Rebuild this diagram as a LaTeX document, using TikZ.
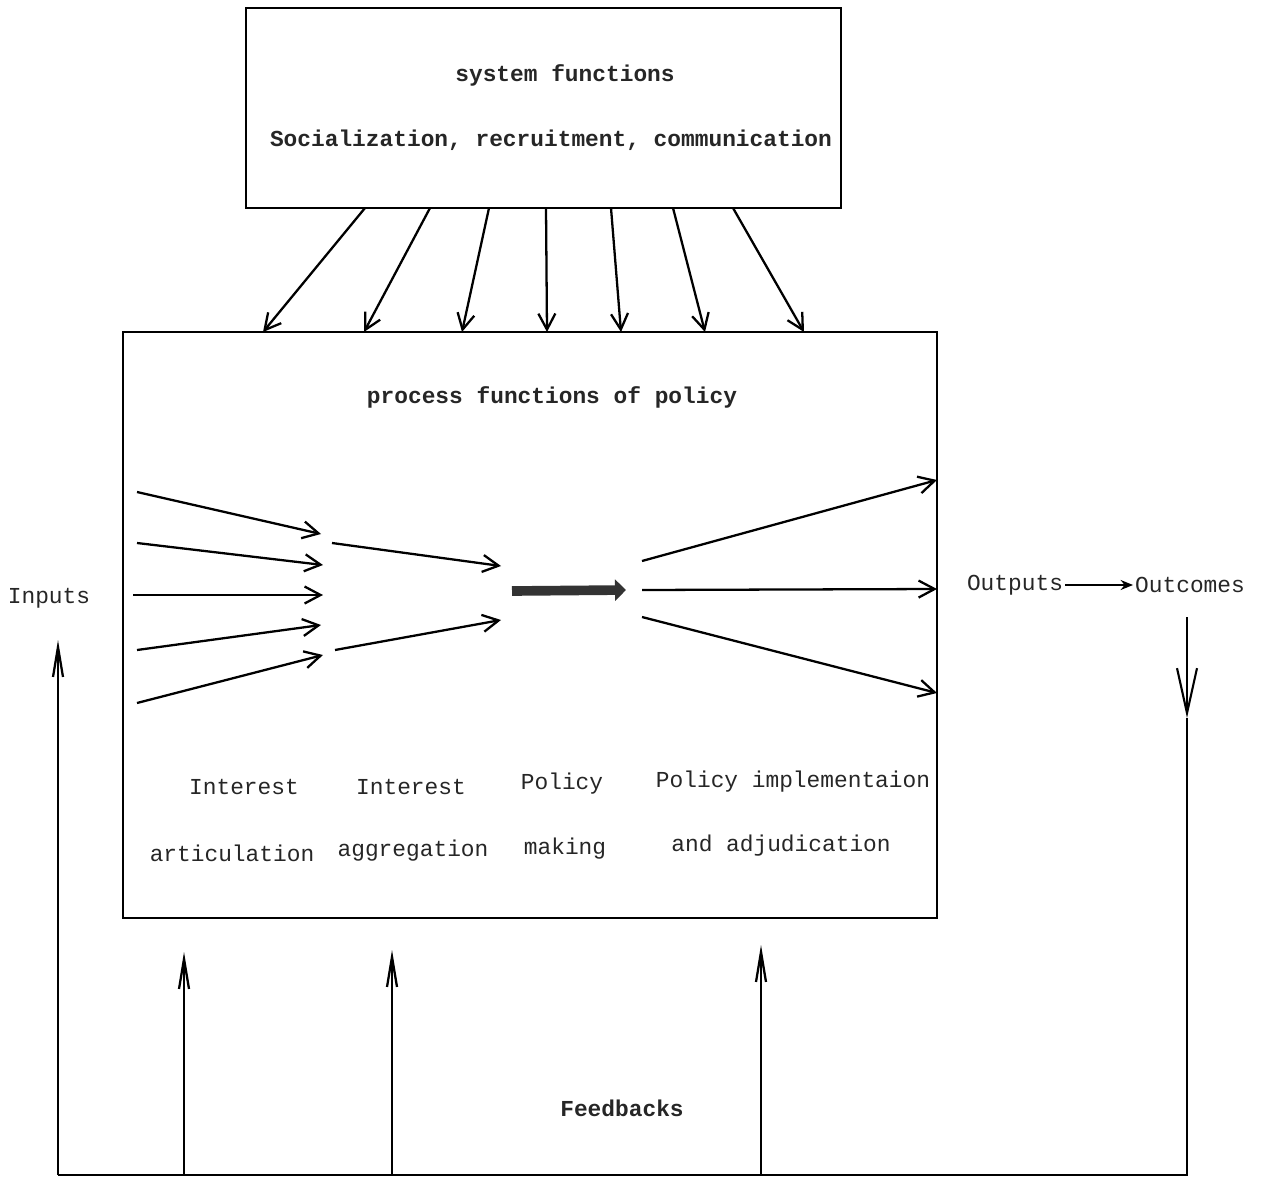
\documentclass[tikz,border=0pt]{standalone}
\usepackage{fontspec}
\setmainfont{Liberation Mono}
\usetikzlibrary{arrows.meta, positioning}
\tikzstyle{box}       = [draw, line width=1.3pt, inner sep=0pt]
\tikzstyle{txt}       = [font=\fontsize{13}{15}\selectfont, inner sep=1pt, text=black!85]
\tikzstyle{boldtxt}   = [txt, font=\fontsize{13}{15}\selectfont\bfseries]
\tikzstyle{arrow}     = [line width=1.3pt, -{Straight Barb[length=3.2mm, width=3.4mm]}]
\tikzstyle{fbarrow}   = [line width=1.3pt, -{Straight Barb[length=6mm, width=2mm]}]
\tikzstyle{downarrow} = [line width=1.2pt, -{Straight Barb[length=9mm, width=4mm]}]
\tikzstyle{smallarrow}= [line width=0.9pt, -{Stealth[length=2.5mm, width=2mm]}]
\tikzstyle{fbline}    = [line width=1.3pt]
\tikzstyle{bigarrow}  = [line width=5.5pt, black!80, -{Triangle[length=2.2mm, width=4.2mm]}]

\begin{document}
\begin{tikzpicture}[x=0.02cm, y=-0.02cm]
\useasboundingbox (0,0) rectangle (1263,1182);

% system functions
\node[box, minimum width=11.9cm, minimum height=4cm] (sys) at (543.5,108) {};
\node[boldtxt] (sysname) at (565,75) {system functions};
\node[boldtxt] (syslist) at (551,140) {Socialization, recruitment, communication};

% process functions
\node[box, minimum width=16.28cm, minimum height=11.72cm] (proc) at (530,625) {};
\node[boldtxt] (procname) at (552,397) {process functions of policy};

\node[txt] (art1) at (244,787) {Interest};
\node[txt] (art2) at (232,853) {articulation};
\node[txt] (agg1) at (411,787) {Interest};
\node[txt] (agg2) at (413,851) {aggregation};
\node[txt] (mak1) at (562,784) {Policy};
\node[txt] (mak2) at (565,849) {making};
\node[txt] (imp1) at (793,782) {Policy implementaion};
\node[txt] (imp2) at (781,846) {and adjudication};

\node[txt] (inputs) at (49,598) {Inputs};
\node[txt] (outputs) at (1015,585) {Outputs};
\node[txt] (outcomes) at (1190,585) {Outcomes};
\node[boldtxt] (feedbacks) at (622,1108) {Feedbacks};

% ends of the arrows from system to process
\coordinate (S1) at (365,208);  \coordinate (S1e) at (263,332);
\coordinate (S2) at (430,208);  \coordinate (S2e) at (364,332);
\coordinate (S3) at (489,208);  \coordinate (S3e) at (462,332);
\coordinate (S4) at (546,208);  \coordinate (S4e) at (547,332);
\coordinate (S5) at (611,208);  \coordinate (S5e) at (621,332);
\coordinate (S6) at (673,208);  \coordinate (S6e) at (705,332);
\coordinate (S7) at (733,208);  \coordinate (S7e) at (804,332);

\draw[arrow] (S1) -- (S1e);
\draw[arrow] (S2) -- (S2e);
\draw[arrow] (S3) -- (S3e);
\draw[arrow] (S4) -- (S4e);
\draw[arrow] (S5) -- (S5e);
\draw[arrow] (S6) -- (S6e);
\draw[arrow] (S7) -- (S7e);

% articulation
\coordinate (A1) at (137,492);  \coordinate (A1e) at (321,534);
\coordinate (A2) at (137,543);  \coordinate (A2e) at (323,565);
\coordinate (A3) at (133,595);  \coordinate (A3e) at (323,595);
\coordinate (A4) at (137,650);  \coordinate (A4e) at (321,625);
\coordinate (A5) at (137,703);  \coordinate (A5e) at (323,655);

\draw[arrow] (A1) -- (A1e);
\draw[arrow] (A2) -- (A2e);
\draw[arrow] (A3) -- (A3e);
\draw[arrow] (A4) -- (A4e);
\draw[arrow] (A5) -- (A5e);

% aggregation
\coordinate (G1) at (332,543);  \coordinate (G1e) at (501,566);
\coordinate (G2) at (335,650);  \coordinate (G2e) at (501,620);

\draw[arrow] (G1) -- (G1e);
\draw[arrow] (G2) -- (G2e);

% policy making
\coordinate (M1) at (512,591);  \coordinate (M1e) at (626,590);
\draw[bigarrow] (M1) -- (M1e);

% implementation
\coordinate (P1) at (642,561);  \coordinate (P1e) at (937,480);
\coordinate (P2) at (642,590);  \coordinate (P2e) at (937,589);
\coordinate (P3) at (642,617);  \coordinate (P3e) at (937,693);

\draw[arrow] (P1) -- (P1e);
\draw[arrow] (P2) -- (P2e);
\draw[arrow] (P3) -- (P3e);

\draw[smallarrow] (outputs) -- (outcomes);

% feedback loop
\coordinate (O1) at (1187,617);
\coordinate (O2) at (1187,718);
\coordinate (BR) at (1187,1175);
\coordinate (BL) at (58,1175);
\coordinate (IN) at (58,640);

\draw[downarrow] (O1) -- (O2);
\draw[fbline] (O2) -- (BR) -- (BL);
\draw[fbarrow] (BL) -- (IN);

\coordinate (F1) at (184,1175);  \coordinate (F1e) at (184,952);
\coordinate (F2) at (392,1175);  \coordinate (F2e) at (392,950);
\coordinate (F3) at (761,1175);  \coordinate (F3e) at (761,945);

\draw[fbarrow] (F1) -- (F1e);
\draw[fbarrow] (F2) -- (F2e);
\draw[fbarrow] (F3) -- (F3e);

\end{tikzpicture}
\end{document}
